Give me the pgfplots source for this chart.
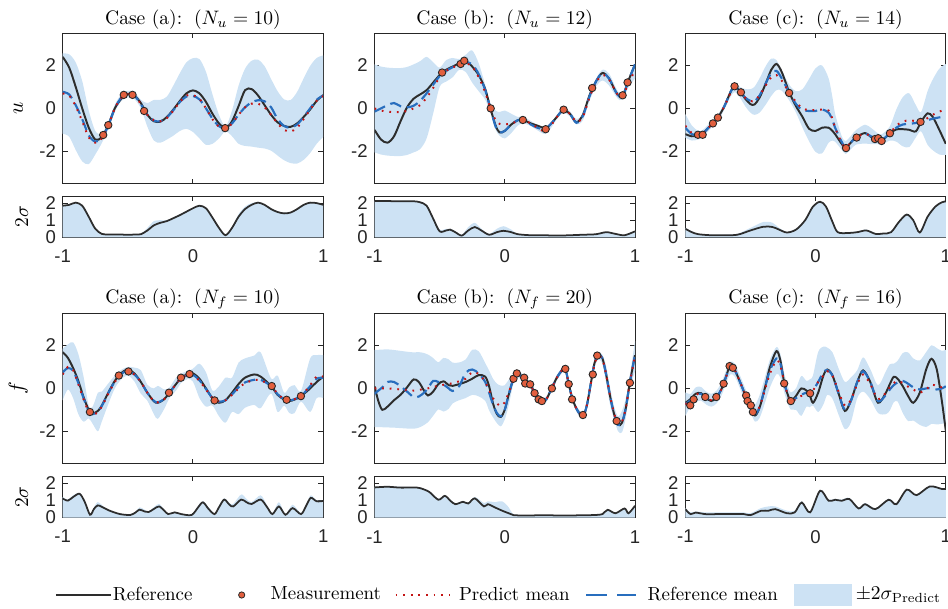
\documentclass[border=0pt]{standalone}
\usepackage{fontspec}
\setsansfont{Liberation Sans}
\usepackage{pgfplots}
\pgfplotsset{compat=1.18}
\usepackage{pgfplotstable}
\usepgfplotslibrary{fillbetween}
\definecolor{refc}{RGB}{45,45,45}
\definecolor{pmc}{RGB}{195,20,20}
\definecolor{rmc}{RGB}{40,110,190}
\definecolor{bandc}{RGB}{205,226,244}
\definecolor{measc}{RGB}{226,95,62}
\definecolor{axc}{RGB}{38,38,38}
\newcommand{\tickfont}{\fontsize{9.5}{11}\selectfont\sffamily}

\pgfplotstableread{
x ref pm rm s sl
-1 2.40 0.69 0.77 1.87 1.85
-0.95 1.90 0.60 0.65 1.92 1.90
-0.90 1.00 0.10 0.15 2.04 2.03
-0.85 0.00 -0.60 -0.50 1.87 1.85
-0.80 -0.90 -1.35 -1.25 1.25 1.20
-0.75 -1.45 -1.60 -1.55 0.55 0.50
-0.70 -1.35 -1.40 -1.38 0.22 0.20
-0.65 -0.78 -0.80 -0.80 0.18 0.17
-0.60 0.00 0.00 0.00 0.17 0.17
-0.55 0.45 0.50 0.50 0.16 0.16
-0.50 0.68 0.67 0.67 0.15 0.15
-0.45 0.60 0.60 0.60 0.17 0.16
-0.40 0.25 0.20 0.20 0.20 0.18
-0.35 -0.30 -0.30 -0.30 0.55 0.40
-0.30 -0.60 -0.55 -0.57 0.95 0.70
-0.25 -0.62 -0.60 -0.60 1.00 0.85
-0.20 -0.40 -0.45 -0.42 1.00 0.95
-0.15 -0.05 -0.10 -0.08 1.17 1.12
-0.10 0.35 0.30 0.30 1.35 1.30
-0.05 0.70 0.60 0.55 1.55 1.50
0.00 0.84 0.62 0.58 1.72 1.70
0.05 0.70 0.45 0.42 1.85 1.85
0.10 0.30 0.00 0.00 1.70 1.70
0.15 -0.25 -0.50 -0.48 1.15 1.15
0.20 -0.70 -0.85 -0.83 0.55 0.55
0.25 -0.92 -0.95 -0.93 0.12 0.12
0.30 -0.60 -0.70 -0.70 0.60 0.55
0.35 0.10 -0.30 -0.30 1.35 1.20
0.40 0.85 0.05 0.05 1.80 1.65
0.45 0.90 0.22 0.28 2.00 1.90
0.50 0.60 0.22 0.38 2.05 2.03
0.55 0.15 0.05 0.33 1.92 1.90
0.60 -0.30 -0.30 0.05 1.67 1.65
0.65 -0.65 -0.70 -0.50 1.50 1.48
0.70 -0.82 -1.00 -0.82 1.42 1.40
0.75 -0.86 -1.08 -0.90 1.47 1.45
0.80 -0.70 -0.90 -0.75 1.67 1.65
0.85 -0.40 -0.50 -0.40 1.90 1.90
0.90 -0.05 -0.05 0.00 2.03 2.03
0.95 0.35 0.35 0.40 2.00 2.00
1.00 0.62 0.57 0.60 1.90 1.90
}\TA

\pgfplotstableread{
x ref pm rm s
-1 -1.00 0.00 -0.15 2.05
-0.95 -1.45 -0.10 0.00 2.05
-0.90 -1.60 -0.15 0.15 2.05
-0.85 -1.30 -0.17 0.25 2.05
-0.80 -0.60 -0.17 0.10 2.05
-0.75 0.05 -0.12 0.05 2.05
-0.70 0.45 0.00 0.12 2.05
-0.65 0.65 0.15 0.35 2.05
-0.60 0.85 0.50 0.70 1.90
-0.55 1.20 0.95 1.10 1.20
-0.50 1.55 1.45 1.50 0.45
-0.45 1.80 1.75 1.75 0.50
-0.40 1.95 1.90 1.92 0.45
-0.35 2.10 2.05 2.07 0.25
-0.30 2.20 2.10 2.15 0.40
-0.25 1.95 1.95 2.05 0.75
-0.20 1.55 1.45 1.60 0.65
-0.15 0.90 0.75 0.85 0.35
-0.11 0.00 0.00 0.00 0.22
-0.07 -0.80 -0.55 -0.85 0.45
-0.04 -1.12 -0.72 -1.12 0.55
0.00 -1.05 -0.75 -1.05 0.65
0.05 -0.75 -0.70 -0.75 0.45
0.10 -0.55 -0.60 -0.55 0.20
0.14 -0.54 -0.55 -0.54 0.15
0.20 -0.70 -0.70 -0.75 0.12
0.25 -0.80 -0.90 -0.90 0.12
0.31 -0.92 -1.08 -0.97 0.12
0.35 -0.75 -0.85 -0.75 0.11
0.40 -0.40 -0.40 -0.40 0.10
0.45 -0.07 -0.10 -0.07 0.11
0.50 -0.25 -0.25 -0.25 0.12
0.55 -0.65 -0.62 -0.67 0.13
0.60 -0.30 -0.40 -0.35 0.15
0.65 0.60 0.50 0.55 0.16
0.70 1.25 1.20 1.25 0.18
0.75 1.65 1.55 1.65 0.25
0.80 1.40 1.35 1.40 0.28
0.85 0.80 0.80 0.80 0.20
0.88 0.57 0.55 0.55 0.16
0.91 0.65 0.60 0.62 0.13
0.95 1.30 1.20 1.30 0.22
1.00 2.05 1.75 2.05 0.35
}\TB

\pgfplotstableread{
x sl s
-1 2.12 2.14
-0.9 2.12 2.14
-0.8 2.11 2.13
-0.7 2.11 2.13
-0.65 2.05 2.08
-0.6 1.85 1.9
-0.55 1.1 1.2
-0.5 0.35 0.45
-0.45 0.4 0.5
-0.42 0.45 0.5
-0.38 0.3 0.35
-0.33 0.1 0.15
-0.28 0.4 0.6
-0.23 0.6 0.85
-0.18 0.4 0.5
-0.12 0.15 0.2
-0.06 0.3 0.5
-0.01 0.38 0.65
0.05 0.3 0.45
0.1 0.18 0.2
0.2 0.12 0.13
0.3 0.12 0.13
0.4 0.1 0.11
0.5 0.12 0.13
0.6 0.15 0.16
0.7 0.18 0.19
0.78 0.3 0.31
0.85 0.2 0.21
0.92 0.12 0.13
1 0.35 0.36
}\SB

\pgfplotstableread{
x ref pm rm s
-1 -1.20 -0.81 -0.90 0.55
-0.95 -1.30 -1.15 -1.20 0.35
-0.90 -1.28 -1.25 -1.25 0.20
-0.87 -1.20 -1.20 -1.20 0.18
-0.83 -0.95 -0.95 -0.95 0.16
-0.79 -0.70 -0.70 -0.70 0.15
-0.75 -0.43 -0.45 -0.43 0.15
-0.70 0.10 0.10 0.10 0.15
-0.65 0.80 0.75 0.80 0.18
-0.62 1.03 0.95 1.00 0.19
-0.58 0.80 0.75 0.80 0.25
-0.54 0.45 0.50 0.50 0.40
-0.50 0.20 0.35 0.35 0.55
-0.47 0.18 0.35 0.33 0.65
-0.43 0.50 0.60 0.60 0.80
-0.38 1.20 1.10 1.20 0.90
-0.34 1.80 1.45 1.65 0.87
-0.30 2.07 1.55 1.75 0.70
-0.26 1.70 1.30 1.40 0.47
-0.20 0.72 0.72 0.72 0.37
-0.15 0.10 0.30 0.20 0.50
-0.10 -0.40 0.00 -0.08 0.90
-0.05 -0.95 -0.08 -0.12 1.45
0.00 -1.05 -0.08 -0.12 1.95
0.05 -0.90 -0.05 -0.05 2.05
0.10 -0.90 -0.10 -0.20 1.50
0.13 -1.05 -0.50 -0.55 1.00
0.15 -1.20 -0.90 -0.90 0.65
0.20 -1.65 -1.60 -1.55 0.32
0.23 -1.85 -1.82 -1.80 0.30
0.27 -1.60 -1.60 -1.60 0.31
0.31 -1.35 -1.35 -1.35 0.34
0.38 -1.15 -1.20 -1.17 0.44
0.43 -1.35 -1.30 -1.32 0.37
0.48 -1.42 -1.42 -1.42 0.25
0.51 -1.50 -1.45 -1.47 0.25
0.57 -1.17 -1.17 -1.17 0.33
0.62 -0.98 -0.80 -0.90 0.75
0.67 -0.97 -0.62 -0.75 1.15
0.72 -1.00 -0.55 -0.72 1.25
0.77 -1.07 -0.60 -0.68 0.75
0.81 -0.63 -0.62 -0.62 0.45
0.86 -0.23 -0.45 -0.55 1.25
0.90 -0.40 -0.30 -0.48 1.65
0.95 -1.00 -0.15 -0.42 2.00
1.00 -1.65 -0.05 -0.35 2.12
}\TC

\pgfplotstableread{
x sl s
-1 0.5 0.55
-0.95 0.3 0.35
-0.9 0.18 0.2
-0.8 0.12 0.15
-0.7 0.12 0.15
-0.6 0.15 0.2
-0.5 0.4 0.55
-0.4 0.62 0.9
-0.33 0.6 0.85
-0.28 0.45 0.55
-0.22 0.28 0.32
-0.15 0.45 0.5
-0.08 1.0 1.05
-0.02 1.8 1.8
0.035 2.08 2.1
0.08 1.8 1.85
0.13 0.9 1.0
0.17 0.3 0.35
0.25 0.25 0.3
0.32 0.3 0.35
0.39 0.4 0.45
0.46 0.2 0.25
0.52 0.22 0.25
0.58 0.3 0.35
0.64 0.9 0.95
0.7 1.33 1.35
0.75 1.0 1.05
0.8 0.28 0.3
0.86 1.2 1.25
0.92 1.8 1.85
0.97 2.05 2.08
1 2.1 2.12
}\SC

\pgfplotstableread{
x ref pm rm s
-1 1.69 0.65 0.75 1.20
-0.96 1.42 1.00 0.95 1.05
-0.92 0.95 0.85 0.82 1.30
-0.88 0.35 0.20 0.25 1.40
-0.84 -0.40 -0.50 -0.45 1.05
-0.80 -1.00 -1.10 -1.05 0.30
-0.77 -1.16 -1.25 -1.20 0.40
-0.73 -1.05 -1.10 -1.08 0.90
-0.70 -0.80 -0.85 -0.82 0.70
-0.65 -0.20 -0.25 -0.22 0.48
-0.60 0.35 0.30 0.32 0.30
-0.55 0.72 0.65 0.68 0.22
-0.50 0.88 0.80 0.82 0.20
-0.45 0.70 0.65 0.65 0.32
-0.40 0.30 0.30 0.30 0.55
-0.35 -0.20 -0.20 -0.20 0.37
-0.30 -0.60 -0.60 -0.58 0.60
-0.27 -0.67 -0.65 -0.65 0.77
-0.22 -0.50 -0.50 -0.50 0.45
-0.18 -0.20 -0.20 -0.20 0.25
-0.13 0.20 0.20 0.20 0.30
-0.09 0.50 0.48 0.48 0.22
-0.04 0.66 0.62 0.62 0.19
0.00 0.70 0.62 0.63 0.30
0.05 0.45 0.35 0.38 0.80
0.10 0.00 -0.05 -0.03 0.80
0.15 -0.45 -0.45 -0.45 0.35
0.20 -0.67 -0.60 -0.62 0.70
0.25 -0.55 -0.55 -0.55 1.05
0.30 -0.20 -0.30 -0.28 0.80
0.35 0.20 0.00 0.05 1.20
0.40 0.50 0.25 0.28 1.15
0.47 0.65 0.38 0.40 1.15
0.52 0.55 0.38 0.40 1.30
0.60 0.11 0.11 0.11 0.35
0.65 -0.30 -0.25 -0.27 0.85
0.70 -0.52 -0.50 -0.50 0.30
0.74 -0.59 -0.55 -0.56 0.60
0.78 -0.52 -0.50 -0.50 0.65
0.83 -0.36 -0.36 -0.36 0.25
0.90 0.00 0.15 0.10 1.25
0.95 0.30 0.55 0.45 1.00
1.00 0.54 0.55 0.50 1.00
}\BA

\pgfplotstableread{
x sl s
-1 1.11 1.2
-0.96 0.99 1.05
-0.92 1.2 1.3
-0.87 1.39 1.42
-0.83 0.9 0.95
-0.79 0.16 0.2
-0.76 0.5 0.6
-0.73 0.71 0.9
-0.68 0.55 0.6
-0.64 0.4 0.42
-0.56 0.2 0.22
-0.48 0.15 0.2
-0.44 0.3 0.35
-0.41 0.46 0.6
-0.37 0.35 0.45
-0.34 0.32 0.35
-0.3 0.5 0.6
-0.26 0.65 0.8
-0.22 0.4 0.45
-0.19 0.2 0.22
-0.14 0.3 0.32
-0.09 0.2 0.22
-0.01 0.15 0.17
0.04 0.6 0.7
0.077 0.89 0.95
0.12 0.5 0.6
0.166 0.2 0.25
0.2 0.6 0.7
0.24 1.05 1.12
0.28 0.75 0.85
0.31 0.65 0.8
0.37 1.05 1.35
0.41 0.9 1.1
0.45 0.79 0.9
0.52 1.05 1.3
0.57 0.6 0.7
0.61 0.2 0.25
0.66 0.65 0.9
0.71 0.16 0.2
0.765 0.55 0.75
0.83 0.2 0.25
0.87 0.7 0.8
0.905 1.15 1.3
0.95 0.95 1.0
1 0.97 1.0
}\SBA

\pgfplotstableread{
x ref pm rm s
-1 0.10 0.00 -0.25 1.80
-0.97 -0.60 0.00 -0.10 1.80
-0.94 -1.00 0.00 0.05 1.81
-0.90 -0.85 0.00 0.30 1.82
-0.85 -0.55 -0.02 0.30 1.81
-0.80 -0.30 -0.05 0.10 1.80
-0.75 0.05 -0.08 -0.15 1.79
-0.70 0.42 -0.10 -0.40 1.78
-0.66 0.30 -0.07 -0.38 1.76
-0.62 -0.10 -0.03 -0.20 1.68
-0.59 -0.33 0.00 0.00 1.58
-0.55 -0.15 0.07 0.35 1.35
-0.51 0.20 0.12 0.30 1.10
-0.47 0.33 0.17 0.18 1.25
-0.43 0.15 0.20 0.00 1.15
-0.40 0.12 0.25 -0.12 0.95
-0.35 0.20 0.33 0.10 0.88
-0.30 0.30 0.45 0.73 0.90
-0.25 0.45 0.75 0.88 1.05
-0.20 0.62 0.68 0.70 1.05
-0.15 0.55 0.30 0.30 0.88
-0.12 0.10 -0.10 -0.20 0.93
-0.09 -0.70 -0.45 -0.75 0.90
-0.06 -1.20 -0.70 -1.15 0.92
-0.03 -1.33 -0.82 -1.30 0.95
0.00 -1.00 -0.65 -1.00 0.80
0.03 -0.30 -0.20 -0.30 0.60
0.067 0.45 0.42 0.45 0.20
0.10 0.65 0.65 0.65 0.16
0.13 0.55 0.55 0.55 0.15
0.16 0.35 0.35 0.35 0.14
0.20 0.15 0.15 0.15 0.14
0.23 -0.25 -0.25 -0.25 0.14
0.26 -0.50 -0.50 -0.50 0.14
0.29 -0.60 -0.60 -0.60 0.14
0.32 -0.50 -0.50 -0.50 0.14
0.36 0.00 0.00 0.00 0.14
0.40 0.50 0.50 0.50 0.13
0.44 0.85 0.85 0.85 0.13
0.465 0.93 0.93 0.93 0.13
0.49 0.25 0.25 0.25 0.13
0.52 -0.50 -0.50 -0.50 0.13
0.56 -1.05 -1.05 -1.05 0.14
0.60 -1.30 -1.28 -1.30 0.14
0.63 -0.80 -0.80 -0.80 0.15
0.66 0.20 0.20 0.20 0.15
0.69 1.20 1.15 1.20 0.16
0.72 1.55 1.50 1.55 0.16
0.75 1.40 1.35 1.40 0.22
0.78 0.60 0.60 0.60 0.40
0.81 -0.40 -0.40 -0.40 0.40
0.84 -1.20 -1.15 -1.20 0.30
0.87 -1.70 -1.65 -1.70 0.35
0.90 -1.60 -1.55 -1.60 0.50
0.93 -0.90 -0.90 -0.90 0.45
0.96 0.26 0.26 0.26 0.35
1.00 1.55 1.50 1.55 0.70
}\BB

\pgfplotstableread{
x sl s
-1 1.76 1.8
-0.9 1.8 1.82
-0.8 1.75 1.8
-0.7 1.76 1.78
-0.65 1.72 1.75
-0.58 1.5 1.55
-0.51 1.04 1.1
-0.46 1.27 1.3
-0.42 1.0 1.05
-0.38 0.78 0.82
-0.32 0.92 0.95
-0.28 0.82 0.85
-0.23 1.12 1.2
-0.16 0.65 0.85
-0.13 0.78 0.95
-0.075 0.59 0.9
-0.02 0.4 0.95
0.03 0.25 0.6
0.067 0.14 0.2
0.15 0.12 0.14
0.3 0.13 0.14
0.45 0.12 0.13
0.6 0.13 0.14
0.7 0.15 0.16
0.75 0.2 0.22
0.79 0.45 0.47
0.85 0.25 0.27
0.92 0.53 0.55
0.95 0.25 0.27
1 0.69 0.7
}\SBB

\pgfplotstableread{
x ref pm rm s
-1 -0.67 -0.74 -0.74 0.55
-0.96 -0.50 -0.55 -0.55 0.30
-0.92 -0.25 -0.30 -0.30 0.35
-0.88 -0.22 -0.25 -0.25 0.32
-0.84 -0.45 -0.45 -0.45 0.30
-0.80 -0.59 -0.55 -0.55 0.30
-0.76 -0.42 -0.40 -0.40 0.30
-0.72 0.00 0.00 0.00 0.30
-0.69 0.50 0.50 0.50 0.30
-0.655 1.07 0.95 1.00 0.30
-0.62 0.85 0.85 0.85 0.30
-0.58 0.30 0.30 0.30 0.30
-0.54 -0.30 -0.30 -0.30 0.30
-0.50 -0.85 -0.85 -0.85 0.25
-0.465 -1.26 -1.15 -1.20 0.40
-0.43 -0.90 -0.85 -0.88 0.53
-0.39 0.00 -0.10 0.00 0.60
-0.35 1.00 0.70 0.85 0.65
-0.30 1.74 1.30 1.40 0.63
-0.27 1.30 1.05 1.15 0.55
-0.24 0.25 0.25 0.25 0.45
-0.21 -0.35 -0.35 -0.35 0.40
-0.19 -0.59 -0.59 -0.59 0.40
-0.15 -0.35 -0.50 -0.45 0.50
-0.11 0.00 -0.35 -0.30 0.93
-0.07 -0.10 -0.25 -0.20 0.60
-0.045 -0.30 -0.23 -0.23 0.65
-0.02 -0.67 -0.10 -0.10 0.70
0.02 -0.20 0.30 0.30 1.40
0.06 0.60 0.60 0.75 1.35
0.09 0.88 0.80 0.85 1.10
0.13 0.60 0.60 0.60 1.08
0.18 -0.30 -0.20 -0.30 1.08
0.225 -1.05 -0.80 -1.00 1.10
0.27 -0.60 -0.55 -0.60 1.05
0.32 0.30 0.20 0.30 0.65
0.365 0.84 0.65 0.80 0.80
0.42 0.30 0.20 0.30 0.70
0.48 -0.67 -0.50 -0.60 0.65
0.54 -0.20 -0.20 -0.30 1.00
0.57 0.20 0.05 -0.05 1.08
0.60 0.54 0.25 0.15 0.90
0.63 0.45 0.34 0.28 0.95
0.67 0.10 0.25 0.35 1.40
0.71 -0.35 0.08 0.22 1.60
0.75 -0.67 -0.05 0.05 1.45
0.80 -0.20 -0.20 -0.05 1.50
0.85 0.90 -0.05 0.00 1.75
0.89 1.38 0.18 0.00 1.83
0.93 0.90 0.10 -0.05 1.78
0.97 -0.60 0.05 0.00 1.70
1.00 -1.98 0.10 0.10 1.70
}\BC

\pgfplotstableread{
x sl s
-1 0.49 0.55
-0.96 0.2 0.3
-0.92 0.29 0.35
-0.85 0.2 0.3
-0.75 0.2 0.3
-0.65 0.2 0.3
-0.55 0.2 0.3
-0.5 0.14 0.25
-0.42 0.39 0.55
-0.36 0.4 0.65
-0.31 0.49 0.65
-0.22 0.25 0.4
-0.16 0.3 0.4
-0.106 0.88 0.95
-0.042 0.3 0.35
0.035 1.57 1.6
0.1 0.98 1.05
0.15 1.04 1.1
0.2 0.98 1.05
0.26 1.08 1.15
0.33 0.53 0.6
0.38 0.78 0.85
0.46 0.49 0.55
0.56 1.04 1.1
0.62 0.78 0.85
0.7 1.63 1.65
0.775 1.31 1.35
0.877 1.82 1.85
0.97 1.67 1.7
1 1.67 1.7
}\SBC

\pgfplotsset{
  common/.style={scale only axis, width=133.57pt, xmin=-1, xmax=1,
    tick pos=both, tick align=inside, major tick length=2.5pt,
    axis line style={draw=axc, line width=0.5pt},
    tick style={draw=axc, line width=0.5pt},
    ticklabel style={font=\tickfont, text=axc},
    xticklabel style={yshift=-3pt},
    /pgf/number format/assume math mode=true,
    xtick={-1,0,1}, anchor=north west},
  mainax/.style={common, height=77pt, ymin=-3.5, ymax=3.5, ytick={-2,0,2}, xticklabels={},
    title style={font=\fontsize{10}{12}\selectfont, yshift=-7.6pt},
    every axis y label/.style={at={(axis description cs:0,0.5)}, anchor=center, xshift=-22.8pt, rotate=90, font=\fontsize{11}{12}\selectfont}},
  sigax/.style={common, height=21.02pt, ymin=0, ymax=2.4, ytick={0,1,2},
    every axis y label/.style={at={(axis description cs:0,0.5)}, anchor=center, xshift=-20.9pt, rotate=90, font=\fontsize{10}{12}\selectfont}},
  refl/.style={refc, line width=1pt, smooth},
  rml/.style={rmc, line width=1.1pt, dash pattern=on 6pt off 3pt, smooth},
  pml/.style={pmc, line width=1pt, dash pattern=on 0.9pt off 3pt, smooth},
  meas/.style={only marks, mark=*, mark size=1.9pt, mark options={fill=measc, draw=black!85, line width=0.45pt}},
  leg1/.style={legend image code/.code={\path[draw=none,fill=none] (0pt,0pt) -- (29.2pt,0pt); \draw[##1] (0pt,0pt) -- (28.2pt,0pt);}},
  leg2/.style={legend image code/.code={\path[draw=none,fill=none] (0pt,0pt) -- (40pt,0pt); \draw[##1] plot coordinates {(25.2pt,0pt)};}},
  leg3/.style={legend image code/.code={\path[draw=none,fill=none] (0pt,0pt) -- (40pt,0pt); \draw[##1] (7.5pt,0pt) -- (35pt,0pt);}},
  leg4/.style={legend image code/.code={\path[draw=none,fill=none] (0pt,0pt) -- (40pt,0pt); \draw[##1] (8.5pt,0pt) -- (34pt,0pt);}},
  leg5/.style={legend image code/.code={\path[draw=none,fill=none] (0pt,0pt) -- (40pt,0pt); \fill[##1] (8.5pt,-5.6pt) rectangle (38pt,5.6pt);}},
}

\begin{document}
\begin{tikzpicture}

% ---------- top row ----------
\begin{axis}[mainax, at={(32.15pt,-17.07pt)}, title={Case (a): \,$(N_u = 10)$}, ylabel={$u$}]
\addplot[name path=Ua, draw=none, smooth, forget plot] table[x=x, y expr=\thisrow{pm}+\thisrow{s}] {\TA};
\addplot[name path=La, draw=none, smooth, forget plot] table[x=x, y expr=\thisrow{pm}-\thisrow{s}] {\TA};
\addplot[bandc, forget plot] fill between[of=Ua and La];
\addplot[refl] table[x=x,y=ref] {\TA};
\addplot[rml] table[x=x,y=rm] {\TA};
\addplot[pml] table[x=x,y=pm] {\TA};
\addplot[meas] coordinates {(-0.689,-1.24) (-0.65,-0.78) (-0.531,0.63) (-0.464,0.63) (-0.375,-0.12) (0.247,-0.92)};
\end{axis}
\begin{axis}[sigax, at={(32.15pt,-100.65pt)}, ylabel={$2\sigma$}]
\addplot[fill=bandc, draw=none, smooth] table[x=x,y=s] {\TA} \closedcycle;
\addplot[refc, line width=0.9pt, smooth] table[x=x,y=sl] {\TA};
\end{axis}

\begin{axis}[mainax, at={(192.03pt,-17.07pt)}, title={Case (b): \,$(N_u = 12)$}]
\addplot[name path=Ub, draw=none, smooth, forget plot] table[x=x, y expr=\thisrow{pm}+\thisrow{s}] {\TB};
\addplot[name path=Lb, draw=none, smooth, forget plot] table[x=x, y expr=\thisrow{pm}-\thisrow{s}] {\TB};
\addplot[bandc, forget plot] fill between[of=Ub and Lb];
\addplot[refl] table[x=x,y=ref] {\TB};
\addplot[rml] table[x=x,y=rm] {\TB};
\addplot[pml] table[x=x,y=pm] {\TB};
\addplot[meas] coordinates {(-0.481,1.67) (-0.339,2.07) (-0.311,2.22) (-0.108,0) (0.139,-0.54) (0.314,-0.97) (0.452,-0.06) (0.671,0.95) (0.905,0.61) (0.943,1.21)};
\end{axis}
\begin{axis}[sigax, at={(192.03pt,-100.65pt)}]
\addplot[fill=bandc, draw=none, smooth] table[x=x,y=s] {\SB} \closedcycle;
\addplot[refc, line width=0.9pt, smooth] table[x=x,y=sl] {\SB};
\end{axis}

\begin{axis}[mainax, at={(351.40pt,-17.07pt)}, title={Case (c): \,$(N_u = 14)$}]
\addplot[name path=Uc, draw=none, smooth, forget plot] table[x=x, y expr=\thisrow{pm}+\thisrow{s}] {\TC};
\addplot[name path=Lc, draw=none, smooth, forget plot] table[x=x, y expr=\thisrow{pm}-\thisrow{s}] {\TC};
\addplot[bandc, forget plot] fill between[of=Uc and Lc];
\addplot[refl] table[x=x,y=ref] {\TC};
\addplot[rml] table[x=x,y=rm] {\TC};
\addplot[pml] table[x=x,y=pm] {\TC};
\addplot[meas] coordinates {(-0.903,-1.23) (-0.867,-1.23) (-0.788,-0.70) (-0.75,-0.43) (-0.622,1.03) (-0.573,0.75) (-0.203,0.72) (0.234,-1.85) (0.315,-1.36) (0.456,-1.43) (0.481,-1.39) (0.507,-1.52) (0.571,-1.16) (0.806,-0.63)};
\end{axis}
\begin{axis}[sigax, at={(351.40pt,-100.65pt)}]
\addplot[fill=bandc, draw=none, smooth] table[x=x,y=s] {\SC} \closedcycle;
\addplot[refc, line width=0.9pt, smooth] table[x=x,y=sl] {\SC};
\end{axis}

% ---------- bottom row ----------
\begin{axis}[mainax, at={(32.15pt,-160.65pt)}, title={Case (a): \,$(N_f = 10)$}, ylabel={$f$}]
\addplot[name path=Ud, draw=none, smooth, forget plot] table[x=x, y expr=\thisrow{pm}+\thisrow{s}] {\BA};
\addplot[name path=Ld, draw=none, smooth, forget plot] table[x=x, y expr=\thisrow{pm}-\thisrow{s}] {\BA};
\addplot[bandc, forget plot] fill between[of=Ud and Ld];
\addplot[refl] table[x=x,y=ref] {\BA};
\addplot[rml] table[x=x,y=rm] {\BA};
\addplot[pml] table[x=x,y=pm] {\BA};
\addplot[meas] coordinates {(-0.791,-1.10) (-0.569,0.60) (-0.495,0.79) (-0.184,-0.20) (-0.092,0.50) (-0.026,0.67) (0.166,-0.56) (0.605,0.11) (0.719,-0.53) (0.829,-0.36)};
\end{axis}
\begin{axis}[sigax, at={(32.15pt,-244.33pt)}, ylabel={$2\sigma$}]
\addplot[fill=bandc, draw=none, smooth] table[x=x,y=s] {\SBA} \closedcycle;
\addplot[refc, line width=0.9pt, smooth] table[x=x,y=sl] {\SBA};
\end{axis}

\begin{axis}[mainax, at={(192.03pt,-160.65pt)}, title={Case (b): \,$(N_f = 20)$}]
\addplot[name path=Ue, draw=none, smooth, forget plot] table[x=x, y expr=\thisrow{pm}+\thisrow{s}] {\BB};
\addplot[name path=Le, draw=none, smooth, forget plot] table[x=x, y expr=\thisrow{pm}-\thisrow{s}] {\BB};
\addplot[bandc, forget plot] fill between[of=Ue and Le];
\addplot[refl] table[x=x,y=ref] {\BB};
\addplot[rml] table[x=x,y=rm] {\BB};
\addplot[pml] table[x=x,y=pm] {\BB};
\addplot[meas] coordinates {(0.067,0.45) (0.093,0.70) (0.149,0.50) (0.157,0.23) (0.195,0.19) (0.229,-0.22) (0.26,-0.51) (0.285,-0.59) (0.362,0.0) (0.465,0.91) (0.491,0.20) (0.517,-0.51) (0.60,-1.24) (0.676,0.65) (0.71,1.53) (0.859,-1.52) (0.961,0.26)};
\end{axis}
\begin{axis}[sigax, at={(192.03pt,-244.33pt)},
  legend style={at={(-1.2266,-1.89)}, anchor=west, draw=none, fill=none,
    inner sep=0pt, outer sep=0pt,
    font=\fontsize{9.7}{12}\selectfont, legend columns=5,
    /tikz/every even column/.append style={column sep=0pt},
    nodes={inner sep=0pt, outer sep=0pt}},
  legend cell align=left]
\addplot[fill=bandc, draw=none, smooth, forget plot] table[x=x,y=s] {\SBB} \closedcycle;
\addplot[refc, line width=0.9pt, smooth, forget plot] table[x=x,y=sl] {\SBB};
\addlegendimage{leg1, refc, line width=1pt}
\addlegendentry{Reference}
\addlegendimage{leg2, only marks, mark=*, mark size=1.6pt, mark options={fill=measc, draw=black!85, line width=0.4pt}}
\addlegendentry{Measurement}
\addlegendimage{leg3, pmc, line width=1pt, dash pattern=on 0.9pt off 3pt}
\addlegendentry{Predict mean}
\addlegendimage{leg4, rmc, line width=1.1pt, dash pattern=on 10.8pt off 5.1pt}
\addlegendentry{Reference mean}
\addlegendimage{leg5, fill=bandc, draw=none}
\addlegendentry{$\pm 2\sigma_{\mathrm{Predict}}$}
\end{axis}

\begin{axis}[mainax, at={(351.40pt,-160.65pt)}, title={Case (c): \,$(N_f = 16)$}]
\addplot[name path=Uf, draw=none, smooth, forget plot] table[x=x, y expr=\thisrow{pm}+\thisrow{s}] {\BC};
\addplot[name path=Lf, draw=none, smooth, forget plot] table[x=x, y expr=\thisrow{pm}-\thisrow{s}] {\BC};
\addplot[bandc, forget plot] fill between[of=Uf and Lf];
\addplot[refl] table[x=x,y=ref] {\BC};
\addplot[rml] table[x=x,y=rm] {\BC};
\addplot[pml] table[x=x,y=pm] {\BC};
\addplot[meas] coordinates {(-0.962,-0.79) (-0.936,-0.51) (-0.847,-0.40) (-0.762,-0.40) (-0.706,0.22) (-0.66,1.04) (-0.635,0.96) (-0.533,-0.33) (-0.522,-0.59) (-0.497,-0.79) (-0.481,-1.10) (-0.241,0.23) (-0.19,-0.59) (-0.042,-0.23)};
\end{axis}
\begin{axis}[sigax, at={(351.40pt,-244.33pt)}]
\addplot[fill=bandc, draw=none, smooth] table[x=x,y=s] {\SBC} \closedcycle;
\addplot[refc, line width=0.9pt, smooth] table[x=x,y=sl] {\SBC};
\end{axis}
\pgfresetboundingbox
\path[use as bounding box] (0,0) rectangle (486.1pt,-311.76pt);
\end{tikzpicture}
\end{document}
